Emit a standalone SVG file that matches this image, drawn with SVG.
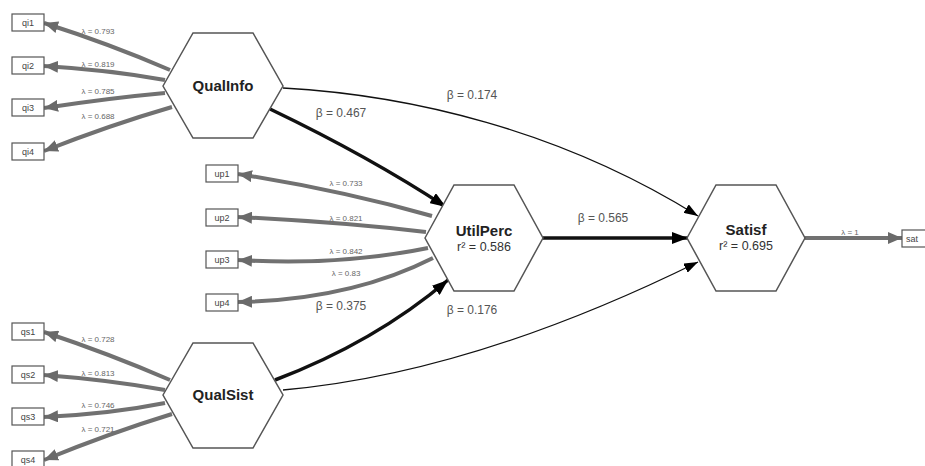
<svg xmlns="http://www.w3.org/2000/svg" width="925" height="466" viewBox="0 0 925 466">
<style>
.hex{fill:#fff;stroke:#555;stroke-width:1.5}
.box{fill:#fff;stroke:#555;stroke-width:1.2}
.bt{font-family:"Liberation Sans",Arial,sans-serif;font-size:9px;fill:#444;text-anchor:middle}
.nt{font-family:"Liberation Sans",Arial,sans-serif;font-size:15px;font-weight:bold;fill:#222;text-anchor:middle}
.rt{font-family:"Liberation Sans",Arial,sans-serif;font-size:12.5px;fill:#333;text-anchor:middle}
.lt{font-family:"Liberation Sans",Arial,sans-serif;font-size:8px;fill:#666;text-anchor:middle}
.btx{font-family:"Liberation Sans",Arial,sans-serif;font-size:12px;fill:#555;text-anchor:middle}
.ld{fill:none;stroke:#717171;stroke-width:4}
.pk{fill:none;stroke:#111;stroke-width:3.5}
.pn{fill:none;stroke:#111;stroke-width:1.3}
</style>
<defs>
<marker id="ag" markerUnits="userSpaceOnUse" markerWidth="14" markerHeight="12" refX="14" refY="6" orient="auto">
<path d="M0,0 L14,6 L0,12 z" fill="#6a6a6a"/>
</marker>
<marker id="ak" markerUnits="userSpaceOnUse" markerWidth="16" markerHeight="12" refX="16" refY="6" orient="auto">
<path d="M0,0 L16,6 L0,12 z" fill="#000"/>
</marker>
<marker id="an" markerUnits="userSpaceOnUse" markerWidth="14" markerHeight="10" refX="14" refY="5" orient="auto">
<path d="M0,0 L14,5 L0,10 z" fill="#000"/>
</marker>
</defs>
<g id="connectors">
<path class="ld" d="M170,70 Q110,44 44,23" marker-end="url(#ag)"/>
<path class="ld" d="M165,80 Q110,70 44,66" marker-end="url(#ag)"/>
<path class="ld" d="M165,93 Q110,98 44,108" marker-end="url(#ag)"/>
<path class="ld" d="M172,107 Q110,125 44,151" marker-end="url(#ag)"/>
<path class="ld" d="M170,380 Q110,354 44,332" marker-end="url(#ag)"/>
<path class="ld" d="M165,390 Q110,380 44,375" marker-end="url(#ag)"/>
<path class="ld" d="M165,403 Q110,414 44,417" marker-end="url(#ag)"/>
<path class="ld" d="M172,414 Q110,433 44,460" marker-end="url(#ag)"/>
<path class="ld" d="M432,216 Q340,190 238,174" marker-end="url(#ag)"/>
<path class="ld" d="M426,232 Q340,222 238,217" marker-end="url(#ag)"/>
<path class="ld" d="M428,248 Q340,266 238,260" marker-end="url(#ag)"/>
<path class="ld" d="M433,258 Q350,300 238,302" marker-end="url(#ag)"/>
<path class="ld" d="M805,238 L902,238" marker-end="url(#ag)"/>
<path class="pk" d="M270,109 Q370,157 446,207" marker-end="url(#ak)"/>
<path class="pk" d="M275,380 Q375,342 448,280" marker-end="url(#ak)"/>
<path class="pk" d="M543,238 L688,238" marker-end="url(#ak)"/>
<path class="pn" d="M283,88 C410,95 560,130 698,216" marker-end="url(#an)"/>
<path class="pn" d="M283,390 C420,378 560,330 698,262" marker-end="url(#an)"/>
<text class="lt" x="98" y="34">λ = 0.793</text>
<text class="lt" x="98" y="67">λ = 0.819</text>
<text class="lt" x="98" y="94">λ = 0.785</text>
<text class="lt" x="98" y="119">λ = 0.688</text>
<text class="lt" x="98" y="342">λ = 0.728</text>
<text class="lt" x="98" y="376">λ = 0.813</text>
<text class="lt" x="98" y="408">λ = 0.746</text>
<text class="lt" x="98" y="432">λ = 0.721</text>
<text class="lt" x="346" y="186">λ = 0.733</text>
<text class="lt" x="346" y="221">λ = 0.821</text>
<text class="lt" x="346" y="254">λ = 0.842</text>
<text class="lt" x="346" y="276">λ = 0.83</text>
<text class="lt" x="850" y="235">λ = 1</text>
<text class="btx" x="341" y="117">β = 0.467</text>
<text class="btx" x="472" y="99">β = 0.174</text>
<text class="btx" x="603" y="222">β = 0.565</text>
<text class="btx" x="341" y="310">β = 0.375</text>
<text class="btx" x="472" y="314">β = 0.176</text>
</g>
<g id="QualInfo">
<polygon class="hex" points="163,86 193,33 253,33 283,86 253,138 193,138"/>
<text class="nt" x="223" y="91">QualInfo</text>
</g>
<g id="UtilPerc">
<polygon class="hex" points="425,238 454,185 514,185 543,238 514,291 454,291"/>
<text class="nt" x="484" y="236">UtilPerc</text>
<text class="rt" x="484" y="251">r² = 0.586</text>
</g>
<g id="Satisf">
<polygon class="hex" points="687,238 716,185 776,185 805,238 776,291 716,291"/>
<text class="nt" x="746" y="235">Satisf</text>
<text class="rt" x="746" y="250">r² = 0.695</text>
</g>
<g id="QualSist">
<polygon class="hex" points="163,395 193,343 253,343 283,395 253,448 193,448"/>
<text class="nt" x="223" y="400">QualSist</text>
</g>
<g id="qi1"><rect class="box" x="12" y="14" width="32" height="17"/><text class="bt" x="28" y="26">qi1</text></g>
<g id="qi2"><rect class="box" x="12" y="57" width="32" height="17"/><text class="bt" x="28" y="69">qi2</text></g>
<g id="qi3"><rect class="box" x="12" y="99" width="32" height="17"/><text class="bt" x="28" y="111">qi3</text></g>
<g id="qi4"><rect class="box" x="12" y="143" width="32" height="17"/><text class="bt" x="28" y="155">qi4</text></g>
<g id="qs1"><rect class="box" x="12" y="323" width="32" height="17"/><text class="bt" x="28" y="335">qs1</text></g>
<g id="qs2"><rect class="box" x="12" y="366" width="32" height="17"/><text class="bt" x="28" y="378">qs2</text></g>
<g id="qs3"><rect class="box" x="12" y="408" width="32" height="17"/><text class="bt" x="28" y="420">qs3</text></g>
<g id="qs4"><rect class="box" x="12" y="451" width="32" height="17"/><text class="bt" x="28" y="463">qs4</text></g>
<g id="up1"><rect class="box" x="206" y="165" width="32" height="17"/><text class="bt" x="222" y="177">up1</text></g>
<g id="up2"><rect class="box" x="206" y="209" width="32" height="17"/><text class="bt" x="222" y="221">up2</text></g>
<g id="up3"><rect class="box" x="206" y="251" width="32" height="17"/><text class="bt" x="222" y="263">up3</text></g>
<g id="up4"><rect class="box" x="206" y="294" width="32" height="17"/><text class="bt" x="222" y="306">up4</text></g>
<g id="sat"><rect class="box" x="902" y="230" width="40" height="17"/><text class="bt" x="906" y="242" style="text-anchor:start">sat</text></g>
</svg>
